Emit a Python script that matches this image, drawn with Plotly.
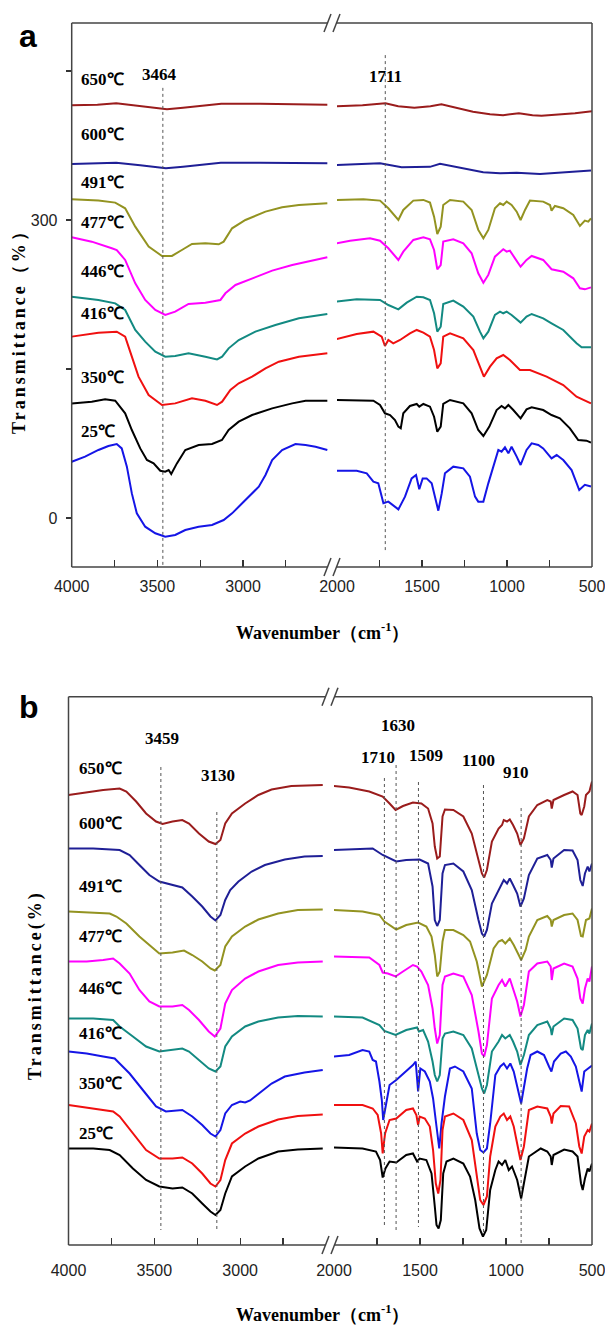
import plotly.graph_objects as go

W, H = 605, 1325

# ---------------- Panel a data (wavenumber cm-1, transmittance %) ----------------
a650_L = [(4000,415.5),(3850,416),(3740,417.5),(3600,414.5),(3500,412.5),(3444,411.5),(3350,413),(3250,415),(3127,417),(2900,417),(2700,416.8),(2508,416)]
a650_R = [(2000,414.5),(1850,415.5),(1715,417.5),(1640,414.5),(1545,413),(1450,414.5),(1386,416.5),(1300,413),(1200,409),(1100,406.5),(1023,405.5),(930,407.5),(850,405.5),(797,405),(700,406),(600,407.5),(500,409.5)]
a600_L = [(4000,356.4),(3850,357),(3740,357.5),(3600,355),(3500,352.5),(3450,352),(3350,353.5),(3250,355.5),(3130,357.5),(2900,357.5),(2700,357.5),(2508,357)]
a600_R = [(2006,355.4),(1850,356),(1747,357),(1620,353),(1453,353.5),(1394,356.5),(1257,352),(1140,348),(1041,347),(943,347.5),(806,346.2),(669,347.5),(580,348.5),(506,349.7)]
a491_L = [(4000,320.8),(3844,319.5),(3746,317.5),(3688,311.8),(3629,293.3),(3551,273.2),(3473,263.8),(3415,263.8),(3357,269.8),(3298,275.9),(3220,276.5),(3142,275.5),(3113,278.2),(3064,291.6),(2986,300),(2869,308.4),(2772,312.8),(2674,315.1),(2508,316.8)]
a491_R = [(2006,320.2),(1845,320.8),(1747,319.5),(1698,311.8),(1639,300),(1610,310.1),(1551,319.5),(1492,320.2),(1453,317.5),(1429,303.4),(1410,285.9),(1390,293.3),(1375,315.1),(1335,320.2),(1257,318.5),(1208,310.1),(1169,290),(1139,281.6),(1110,290),(1071,311.8),(1041,316.8),(1022,315.1),(1002,318.5),(973,315.1),(943,308.4),(920,300),(894,310.1),(865,319.5),(787,318.5),(747,315.1),(738,309.4),(718,314.1),(669,311.8),(610,305.1),(571,294),(542,299.4),(522,298.3),(506,301.7)]
a477_L = [(4000,282.6),(3883,278.2),(3766,271.5),(3737,269.8),(3688,259.8),(3629,236.3),(3571,219.5),(3512,209.4),(3454,204.4),(3396,207.7),(3318,215.5),(3220,216.8),(3132,219.5),(3103,226.2),(3044,234.6),(2947,241.3),(2830,249),(2713,254.7),(2508,262.4)]
a477_R = [(2006,276.5),(1923,279.2),(1806,281.6),(1747,279.2),(1698,271.5),(1659,263.1),(1639,259.8),(1610,268.1),(1551,279.9),(1492,282.6),(1453,280.6),(1429,269.8),(1410,250.4),(1390,254.7),(1375,278.2),(1316,280.6),(1257,276.5),(1208,266.5),(1169,246.3),(1139,236.9),(1110,244.7),(1071,263.1),(1041,268.1),(1022,270.5),(1002,268.1),(983,269.2),(953,261.4),(920,253),(885,259.8),(855,263.8),(787,259.8),(738,250.4),(669,248),(610,241.3),(571,231.2),(542,230.2),(506,232.2)]
a446_L = [(4000,222.8),(3844,219.5),(3746,216.1),(3688,209.4),(3629,189.3),(3571,177.5),(3512,167.5),(3454,162.4),(3396,163.1),(3318,165.8),(3220,162.4),(3152,159.7),(3122,162.4),(3084,170.8),(3025,179.2),(2928,187.6),(2811,194.3),(2674,201),(2508,205.4)]
a446_R = [(2006,217.8),(1884,220.1),(1747,219.5),(1698,214.4),(1639,210.1),(1590,216.8),(1531,222.8),(1492,222.2),(1453,219.5),(1429,206.1),(1410,187.6),(1390,192.6),(1375,215.5),(1316,218.8),(1257,212.8),(1198,202.7),(1159,187.6),(1139,180.9),(1110,187.6),(1071,204.4),(1041,207.7),(1022,206.1),(1002,207.7),(973,204.4),(920,196.7),(885,202.7),(855,205.4),(787,201),(738,196),(669,189.3),(591,175.9),(561,171.8),(506,171.8)]
a416_L = [(4000,182.6),(3922,184.9),(3844,186.6),(3737,187.6),(3688,182.6),(3649,162.4),(3610,142.3),(3551,123.8),(3473,113.8),(3396,115.4),(3298,120.5),(3220,118.1),(3152,113.8),(3122,117.1),(3074,128.9),(3025,135.6),(2947,142.3),(2869,150.7),(2791,157.4),(2674,162.4),(2508,165.8)]
a416_R = [(2006,179.9),(1884,185.2),(1786,187.6),(1737,182.6),(1718,173.2),(1698,179.2),(1669,175.9),(1629,179.2),(1571,185.9),(1531,189.3),(1492,186.6),(1453,182.6),(1429,169.1),(1410,150.7),(1390,155.7),(1375,182.6),(1335,185.9),(1257,180.9),(1198,169.1),(1159,152.4),(1136,142.3),(1100,152.4),(1061,160.8),(1022,164.1),(983,159.1),(924,149),(865,149),(767,142.3),(669,133.9),(591,122.2),(506,115.4)]
a350_L = [(4000,115.4),(3883,117.1),(3805,119.5),(3746,118.1),(3688,105.4),(3649,88.6),(3600,70.1),(3561,58.4),(3522,55),(3483,47.6),(3454,46.6),(3434,48.3),(3419,44.3),(3386,55),(3337,68.5),(3259,73.5),(3181,74.5),(3123,78.5),(3084,88.6),(3025,97),(2947,103.7),(2830,110.4),(2713,115.4),(2635,118.1),(2508,118.1)]
a350_R = [(2006,118.8),(1884,118.8),(1786,118.1),(1747,113.8),(1718,105.4),(1688,103.7),(1659,98.7),(1639,92),(1625,90.3),(1610,105.4),(1571,112.8),(1531,114.8),(1516,112.1),(1492,114.8),(1453,112.1),(1429,102),(1410,86.9),(1390,92),(1375,114.8),(1335,118.8),(1257,115.4),(1208,105.4),(1169,88.6),(1139,82.6),(1104,92),(1061,108.7),(1032,112.8),(1012,110.4),(992,113.8),(963,108.7),(920,100.3),(885,109.4),(855,111.4),(787,108.7),(738,103.7),(689,100.3),(630,90.3),(581,78.5),(532,77.9),(506,75.8)]
a25_L = [(4000,56.7),(3922,61.8),(3844,68.5),(3786,72.5),(3737,74.5),(3708,70.1),(3678,51.7),(3649,24.8),(3620,4.7),(3571,-8.7),(3512,-15.4),(3454,-18.8),(3396,-17.1),(3337,-12.1),(3259,-8.7),(3181,-7),(3113,-2),(3064,4.7),(3005,14.8),(2947,24.8),(2908,31.5),(2869,43.3),(2830,58.4),(2772,68.5),(2694,74.5),(2635,73.5),(2577,71.8),(2508,68.5)]
a25_R = [(2006,47.6),(1884,47.6),(1825,45),(1786,36.6),(1757,34.9),(1727,14.8),(1698,16.5),(1669,13.1),(1639,8.7),(1600,21.5),(1561,39.9),(1535,43.3),(1516,28.9),(1496,39.9),(1473,39.9),(1443,34.9),(1424,21.5),(1404,7.4),(1384,24.8),(1365,45),(1316,51.7),(1257,50),(1218,41.6),(1188,21.5),(1169,16.5),(1139,16.5),(1110,34.9),(1071,58.4),(1051,68.5),(1032,66.8),(1012,71.1),(992,65.1),(973,71.8),(943,61.8),(920,53.4),(885,68.5),(855,75.2),(816,73.5),(787,70.1),(738,60.1),(708,63.4),(669,58.4),(620,48.3),(575,28.2),(542,33.5),(506,31.8)]

# ---------------- Panel b data (wavenumber cm-1, transmittance a.u.) ----------------
b650_L = [(4000,90),(3894,90.5),(3798,91),(3702,91.3),(3663,90.7),(3606,88.7),(3548,86.3),(3490,84.7),(3452,84.2),(3394,84.7),(3337,85),(3298,84.3),(3240,82.3),(3183,80.7),(3144,80.2),(3115,81),(3087,84.3),(3048,86.3),(2971,88.3),(2894,90),(2817,91.1),(2702,91.8),(2519,92)]
b650_R = [(2006,91.8),(1912,91.5),(1795,90.7),(1717,89.7),(1677,88.3),(1642,87),(1599,87.8),(1541,88.5),(1492,88.3),(1453,87.3),(1427,84.3),(1414,79.7),(1400,77.3),(1385,77.7),(1369,85.7),(1355,87.1),(1306,87),(1248,85.7),(1199,82.3),(1160,77),(1140,74.3),(1127,73.5),(1111,75),(1082,80.7),(1043,83.3),(1023,84),(1013,85),(994,84.7),(978,85.1),(959,84),(935,82.3),(916,80),(896,81.3),(867,85.7),(818,88),(760,89),(740,88.7),(734,87.3),(724,89),(662,90),(613,90.7),(584,90),(568,86.3),(560,86),(545,87.7),(535,90),(515,90.7),(500,92.7)]
b600_L = [(4000,79.3),(3856,79.3),(3702,79),(3644,78),(3587,76),(3529,74),(3471,72.7),(3394,72),(3337,71.5),(3279,69.7),(3221,67.7),(3173,65.7),(3144,64.9),(3115,66),(3087,69),(3058,71),(3010,72.7),(2933,74.7),(2856,76),(2740,77.1),(2625,77.7),(2519,77.8)]
b600_R = [(2006,79),(1912,79.1),(1775,79.3),(1717,78),(1638,76.7),(1580,77),(1502,77.1),(1453,76.3),(1427,71.7),(1414,65),(1400,63.8),(1385,65),(1369,74.3),(1355,76),(1306,76.3),(1248,74.7),(1199,71),(1160,65),(1140,62.3),(1127,61.7),(1111,63),(1082,68.3),(1043,71),(1023,72.3),(1013,73),(994,72.3),(978,73.3),(959,72),(935,70.3),(916,67.7),(896,69.3),(867,74),(818,77.3),(760,78),(740,77),(734,75.5),(724,77.3),(662,79),(613,78.9),(584,77),(568,73),(554,71.8),(541,74.3),(525,75.7),(515,74.7),(500,76.3)]
b491_L = [(4000,66.7),(3856,66.5),(3760,66.3),(3721,65.7),(3663,64.3),(3587,61.7),(3529,60),(3471,58.3),(3394,58.5),(3327,58.9),(3279,58),(3221,56.7),(3173,55.3),(3148,54.9),(3115,56),(3087,59.7),(3048,61.7),(2971,63.7),(2894,65.1),(2779,66.3),(2664,67),(2519,67.1)]
b491_R = [(2006,67),(1834,66.7),(1736,66),(1707,64.7),(1638,63.1),(1580,64),(1511,64.5),(1463,63.7),(1433,61.7),(1414,58),(1400,53.7),(1385,54.7),(1369,60.7),(1355,63),(1306,63),(1248,62),(1209,60.7),(1170,56.7),(1140,51.7),(1111,54),(1072,59.3),(1043,60.7),(1023,61),(1004,60.3),(978,61.3),(955,60),(926,58),(912,57),(886,59),(867,61.7),(818,65),(760,65.8),(740,65),(734,63.7),(724,65),(662,66),(613,66.3),(584,65),(564,61.8),(554,61.7),(535,65),(515,65.3),(500,67.3)]
b477_L = [(4000,56.7),(3894,56.7),(3798,57),(3740,57.3),(3702,56.3),(3644,54.3),(3587,51),(3529,48.7),(3471,47.7),(3394,47.7),(3337,48),(3298,47),(3240,45),(3183,42.7),(3148,41.7),(3115,43.3),(3087,48.3),(3048,51),(2971,53.3),(2894,54.7),(2779,56),(2664,56.5),(2519,56.7)]
b477_R = [(2006,57.7),(1795,57.5),(1736,56),(1717,54.5),(1687,54.3),(1642,53.7),(1599,54.7),(1541,56),(1517,55.7),(1492,54.7),(1453,52),(1427,47.3),(1414,43.3),(1400,40.3),(1385,42),(1369,52),(1355,53.7),(1306,54.3),(1248,53.7),(1199,50),(1160,42.7),(1140,38.3),(1127,37.7),(1111,40),(1082,49.3),(1043,52),(1023,53),(1004,51.7),(978,53.3),(959,51.3),(935,48.7),(916,45.7),(896,48),(867,54.7),(818,56.3),(760,56.7),(740,55.7),(734,53),(724,55.3),(662,56.3),(613,55.7),(584,53.3),(568,49.3),(554,48.3),(541,51.3),(525,53.3),(515,52.7),(500,55.7)]
b446_L = [(4000,45.3),(3856,45.3),(3740,45),(3702,43.7),(3625,41.7),(3548,39.7),(3471,38.7),(3394,39),(3337,39.3),(3298,38.7),(3240,37),(3183,35.3),(3144,34.7),(3115,35.7),(3087,39.7),(3048,41.7),(2971,43.7),(2894,44.7),(2779,45.5),(2664,45.8),(2519,45.7)]
b446_R = [(2006,45.7),(1834,45.5),(1736,44),(1707,42.8),(1642,42),(1580,43),(1517,43.5),(1506,42.7),(1482,43),(1453,40.7),(1427,36.7),(1414,34),(1400,32.7),(1385,34),(1369,41.3),(1355,42.3),(1306,42.7),(1248,42),(1199,39.3),(1160,34),(1140,31.3),(1127,30.3),(1111,32),(1082,38.7),(1043,40.7),(1023,42),(1004,41.3),(978,42),(959,40.7),(935,38.7),(916,36),(896,38),(867,42),(818,44),(760,44.7),(740,43.3),(734,42),(724,43.7),(662,45.3),(613,45),(584,43.3),(564,39.3),(554,39),(541,42),(525,43),(515,42.3),(500,44.3)]
b416_L = [(4000,38.7),(3894,38.3),(3798,37.7),(3731,37.3),(3702,36.3),(3644,34.3),(3567,31),(3490,27.7),(3433,26.7),(3337,27),(3279,25.7),(3221,24),(3173,22.3),(3144,21.7),(3115,23),(3087,26.3),(3048,28),(3000,28.7),(2971,28.5),(2942,28.9),(2913,29.7),(2875,30.7),(2817,32.3),(2740,33.7),(2625,34.5),(2519,35)]
b416_R = [(2006,37.7),(1912,38),(1834,39),(1795,38.7),(1775,37),(1756,36.7),(1736,32.7),(1722,29),(1714,25),(1697,28.3),(1677,32),(1638,33),(1580,34.7),(1541,36),(1525,36.7),(1517,33.3),(1511,30.7),(1498,35.3),(1472,34.7),(1443,32.7),(1424,29.3),(1404,23.7),(1388,19.3),(1375,24.3),(1355,29.7),(1326,35.3),(1297,35.7),(1248,34.7),(1199,31.3),(1170,22.3),(1150,19),(1131,18.5),(1111,19.3),(1092,24.3),(1062,34),(1033,35.7),(1013,36.3),(994,35.3),(975,36.3),(955,34.7),(912,28.3),(877,35.3),(857,38),(818,38.7),(779,38),(750,35.7),(736,34.7),(721,36.7),(682,38.3),(652,38.7),(623,37.7),(594,35.7),(568,32),(560,30.7),(545,34.7),(525,35.3),(500,35.9)]
b350_L = [(4000,28),(3856,27.3),(3740,26.7),(3702,25.7),(3625,22.3),(3548,19),(3471,17.3),(3394,17.3),(3337,17.5),(3279,16.3),(3221,14.3),(3173,12.3),(3144,11.7),(3115,13),(3087,17),(3048,20.3),(2971,22.3),(2894,23.7),(2779,25.1),(2664,25.8),(2519,26.1)]
b350_R = [(2006,28),(1834,28),(1775,27.3),(1746,26),(1726,22.3),(1717,18.3),(1703,22.3),(1677,25),(1638,25.3),(1580,27),(1541,27.3),(1521,26),(1511,24),(1502,25.7),(1472,25.3),(1443,23.7),(1424,19),(1408,12.3),(1394,10.3),(1381,13),(1369,23),(1355,25.7),(1306,26.3),(1248,25),(1199,21),(1170,13.7),(1150,9),(1131,8),(1111,9.7),(1092,17.7),(1062,23.7),(1033,25.7),(1013,26.3),(994,25),(975,25.7),(955,23.7),(935,20.3),(916,17),(896,19.7),(867,27),(818,27.7),(760,27.3),(740,25.7),(734,24.3),(724,26.3),(682,27.8),(633,27.7),(594,24.3),(574,19.7),(560,18.3),(545,21.7),(525,23),(515,22.7),(500,24.3)]
b25_L = [(4000,19.3),(3856,19.3),(3760,19),(3702,18),(3625,15.3),(3548,13),(3471,11.7),(3394,11.3),(3337,11.5),(3279,10.3),(3221,8.3),(3173,6.7),(3144,6),(3115,7),(3087,10.3),(3048,13.7),(2971,15.7),(2894,17.3),(2779,18.7),(2664,19.1),(2519,19.3)]
b25_R = [(2006,19.5),(1834,19.3),(1756,18.7),(1732,17),(1717,13.5),(1701,15.3),(1677,16.7),(1638,16.5),(1580,18),(1541,18.3),(1517,16.7),(1502,17.3),(1463,17),(1433,14.3),(1414,7.7),(1404,4),(1392,3.3),(1379,5),(1365,14.3),(1346,16.7),(1306,17.3),(1248,16.3),(1209,13.7),(1179,9),(1154,3.3),(1134,1.7),(1115,3),(1092,11),(1062,15),(1043,16.7),(1023,16),(1004,17),(984,15),(965,15.7),(935,13),(912,9.3),(896,12.3),(867,17.7),(798,19.3),(760,18.7),(740,17.7),(734,16),(724,18),(662,19.1),(613,18.7),(584,17.7),(564,12.3),(554,11),(541,13.3),(525,15.3),(515,14.7),(500,16.3)]

colors = ["#9a1c1c", "#1f1f96", "#939321", "#ff00ff", "#138a82", "#f01010", "#000000", "#1515e6"]
colors_b = ["#9a1c1c", "#1f1f96", "#939321", "#ff00ff", "#138a82", "#1515e6", "#f01010", "#000000"]
a_curves = [(a650_L, a650_R), (a600_L, a600_R), (a491_L, a491_R), (a477_L, a477_R),
            (a446_L, a446_R), (a416_L, a416_R), (a350_L, a350_R), (a25_L, a25_R)]
b_curves = [(b650_L, b650_R), (b600_L, b600_R), (b491_L, b491_R), (b477_L, b477_R),
            (b446_L, b446_R), (b416_L, b416_R), (b350_L, b350_R), (b25_L, b25_R)]

temps = ["650℃", "600℃", "491℃", "477℃", "446℃", "416℃", "350℃", "25℃"]
a_label_y = [441, 386, 338, 297, 248, 206, 141, 87]
b_label_y = [95.4, 84.4, 71.7, 61.7, 51.3, 42.4, 32.4, 22.4]

a_peaks = [3468, 1716]
a_peak_text = ["3464", "1711"]
a_peak_span = [(433, -49), (466, -35)]
a_peak_label_pos = [(3490, 446), (1712, 444)]

b_peaks = [3462, 3136, 1707, 1639, 1509, 1131, 912]
b_peak_text = ["3459", "3130", "1710", "1630", "1509", "1100", "910"]
b_peak_span = [(95.6, 3), (86.6, 2.6), (93.4, 3.6), (96, 2.6), (92.6, 3.6), (92, 2), (87.4, 0)]
b_peak_label_pos = [(3456, 101.4), (3129, 94), (1744, 97.6), (1627, 104), (1464, 98), (1158, 97), (939, 94.6)]

left_major = [4000, 3500, 3000]
left_minor = [3750, 3250, 2750]
right_major = [2000, 1500, 1000, 500]
right_minor = [1750, 1250, 750]
a_yticks = [0, 300]
a_yminor = [150, 450]

def px(x): return x / W
def py(y): return 1 - y / H

fig = go.Figure()

def add(pts, color, xa, ya):
    fig.add_trace(go.Scatter(x=[p[0] for p in pts], y=[p[1] for p in pts], mode="lines",
                             line=dict(color=color, width=2), xaxis=xa, yaxis=ya,
                             showlegend=False, hoverinfo="skip"))

for (L, R), c in zip(a_curves, colors):
    add(L, c, "x", "y")
    add(R, c, "x2", "y")
for (L, R), c in zip(b_curves, colors_b):
    add(L, c, "x3", "y2")
    add(R, c, "x4", "y2")

tickfont = dict(family="Liberation Sans Narrow, Arial Narrow, Liberation Sans, sans-serif", size=16, color="#222")
xcommon = dict(showgrid=False, zeroline=False, showline=False, ticks="inside", ticklen=7,
               tickwidth=1.2, tickcolor="#333", tickfont=tickfont, tickmode="array",
               ticklabeloverflow="allow")

def minor(vals, ticks="inside", ln=7):
    return dict(tickmode="array", tickvals=vals, ticks=ticks, ticklen=ln, tickwidth=1.2,
                tickcolor="#333", showgrid=False)

fig.update_layout(
    width=W, height=H, margin=dict(l=0, r=0, t=0, b=0, autoexpand=False),
    paper_bgcolor="white", plot_bgcolor="white",
    xaxis=dict(domain=[px(71.7), px(328.7)], range=[4000, 2500], anchor="y",
               tickvals=left_major, minor=minor(left_minor), ticklabelstandoff=8, **xcommon),
    xaxis2=dict(domain=[px(337), px(592)], range=[2000, 500], anchor="y",
                tickvals=right_major, minor=minor(right_minor), ticklabelstandoff=8, **xcommon),
    yaxis=dict(domain=[py(567), py(23)], range=[-49.3, 498.3], anchor="x",
               showgrid=False, zeroline=False, showline=False, ticks="outside", ticklen=5,
               tickwidth=1.2, tickcolor="#333", tickmode="array", tickvals=a_yticks,
               minor=minor(a_yminor, "outside", 5), tickfont=tickfont, ticklabelstandoff=5,
               ticklabeloverflow="allow"),
    xaxis3=dict(domain=[px(68.5), px(326)], range=[4000, 2500], anchor="y2",
                tickvals=left_major, minor=minor(left_minor), ticklabelstandoff=14, **xcommon),
    xaxis4=dict(domain=[px(334), px(592)], range=[2000, 500], anchor="y2",
                tickvals=right_major, minor=minor(right_minor), ticklabelstandoff=14, **xcommon),
    yaxis2=dict(domain=[py(1245), py(696.7)], range=[0, 109.66], anchor="x3",
                showgrid=False, zeroline=False, showline=False, showticklabels=False, ticks=""),
)

shapes = []
fc = "#444"
def frame(x0, x1, y0, y1, xc):
    pl = dict(type="line", xref="paper", yref="paper", line=dict(color=fc, width=1.5))
    shapes.append(dict(pl, x0=px(x0), x1=px(x0), y0=py(y0), y1=py(y1)))
    shapes.append(dict(pl, x0=px(x1), x1=px(x1), y0=py(y0), y1=py(y1)))
    for yy in (y0, y1):
        shapes.append(dict(pl, x0=px(x0), x1=px(xc - 4), y0=py(yy), y1=py(yy)))
        shapes.append(dict(pl, x0=px(xc + 4), x1=px(x1), y0=py(yy), y1=py(yy)))
        shapes.append(dict(pl, x0=px(xc - 8), x1=px(xc - 1), y0=py(yy + 9), y1=py(yy - 9)))
        shapes.append(dict(pl, x0=px(xc + 1), x1=px(xc + 8), y0=py(yy + 9), y1=py(yy - 9)))

frame(71.7, 592, 23, 567, 332)
frame(68.5, 592, 696.7, 1245, 330)

dot = dict(color="#555", width=1, dash="dot")
for wn, (y0, y1) in zip(a_peaks, a_peak_span):
    xr = "x" if wn > 2250 else "x2"
    shapes.append(dict(type="line", xref=xr, yref="y", x0=wn, x1=wn, y0=y0, y1=y1, line=dot))
for wn, (y0, y1) in zip(b_peaks, b_peak_span):
    xr = "x3" if wn > 2250 else "x4"
    shapes.append(dict(type="line", xref=xr, yref="y2", x0=wn, x1=wn, y0=y0, y1=y1, line=dot))

fig.update_layout(shapes=shapes)

serif = "Liberation Serif, Times New Roman, serif"
lab_font = dict(family=serif, size=17, color="black")
ann = []
for t, yv in zip(temps, a_label_y):
    ann.append(dict(x=3960, y=yv, xref="x", yref="y", text="<b>%s</b>" % t, showarrow=False,
                    xanchor="left", yanchor="middle", font=lab_font))
for t, yv in zip(temps, b_label_y):
    ann.append(dict(x=3950, y=yv, xref="x3", yref="y2", text="<b>%s</b>" % t, showarrow=False,
                    xanchor="left", yanchor="middle", font=lab_font))
for t, (xv, yv) in zip(a_peak_text, a_peak_label_pos):
    ann.append(dict(x=xv, y=yv, xref="x" if xv > 2250 else "x2", yref="y", text="<b>%s</b>" % t,
                    showarrow=False, xanchor="center", yanchor="middle", font=lab_font))
for t, (xv, yv) in zip(b_peak_text, b_peak_label_pos):
    ann.append(dict(x=xv, y=yv, xref="x3" if xv > 2250 else "x4", yref="y2", text="<b>%s</b>" % t,
                    showarrow=False, xanchor="center", yanchor="middle", font=lab_font))

title_font = dict(family=serif, size=18, color="black")
ann.append(dict(x=px(322), y=py(631), xref="paper", yref="paper",
                text="<b>Wavenumber（cm<sup>-1</sup>）</b>", showarrow=False, font=title_font,
                xanchor="center", yanchor="middle"))
ann.append(dict(x=px(322), y=py(1313), xref="paper", yref="paper",
                text="<b>Wavenumber（cm<sup>-1</sup>）</b>", showarrow=False, font=title_font,
                xanchor="center", yanchor="middle"))
ann.append(dict(x=px(19), y=py(327), xref="paper", yref="paper", textangle=-90,
                text='<b><span style="letter-spacing:3px">Transmittance（%）</span></b>',
                showarrow=False, font=title_font, xanchor="center", yanchor="middle"))
ann.append(dict(x=px(36), y=py(985), xref="paper", yref="paper", textangle=-90,
                text='<b><span style="letter-spacing:3px">Transmittance(%)</span></b>',
                showarrow=False, font=title_font, xanchor="center", yanchor="middle"))
panel_font = dict(family="Liberation Sans, Arial, sans-serif", size=32, color="black")
ann.append(dict(x=px(28), y=py(36), xref="paper", yref="paper", text="<b>a</b>",
                showarrow=False, font=panel_font, xanchor="center", yanchor="middle"))
ann.append(dict(x=px(29), y=py(707), xref="paper", yref="paper", text="<b>b</b>",
                showarrow=False, font=panel_font, xanchor="center", yanchor="middle"))

fig.update_layout(annotations=ann)
fig.write_html("out.html", config={"displayModeBar": False, "staticPlot": True},
               post_script="document.body.style.margin='0';document.body.style.overflow='hidden';")
